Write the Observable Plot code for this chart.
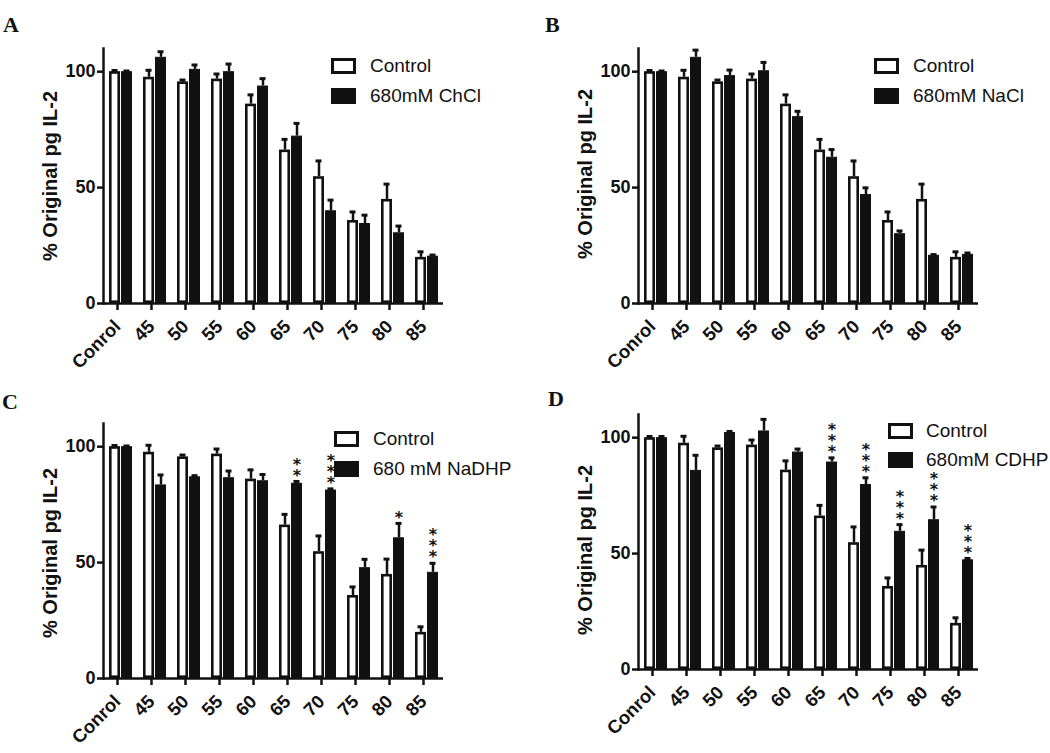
<!DOCTYPE html>
<html><head><meta charset="utf-8">
<script src="https://cdn.jsdelivr.net/npm/d3@7"></script>
<script src="https://cdn.jsdelivr.net/npm/@observablehq/plot@0.6"></script>
<style>
body{margin:0;background:#fff;}
#root{position:relative;width:1050px;height:753px;overflow:hidden;font-family:Arial,"Liberation Sans",sans-serif;color:#111;}
.panel{position:absolute;}
.letter{position:absolute;font-family:"Times New Roman","Liberation Serif",serif;font-weight:bold;font-size:22px;line-height:22px;color:#111;}
.legend{position:absolute;font-size:19px;}
.row{display:flex;align-items:center;height:18px;white-space:nowrap;}
.sw{box-sizing:border-box;width:25px;height:16px;border:3px solid #111;margin-right:14px;}
</style></head><body><div id="root"></div>
<script>
const categories = ["Conrol","45","50","55","60","65","70","75","80","85"];
const controlMean = [100, 97.6, 95.6, 96.8, 86, 66.2, 54.7, 35.8, 44.9, 19.9];
const controlErr  = [0.5, 3, 0.8, 2.2, 4, 4.6, 6.8, 3.7, 6.6, 2.4];
const chclMean  = [100, 106.2, 101, 100, 93.8, 72.2, 40, 34.5, 30.5, 20.4];
const chclErr   = [0.3, 2.4, 1.9, 3.3, 3.2, 5.5, 4.6, 3.6, 2.9, 0.5];
const naclMean  = [100, 106.2, 98.3, 100.4, 80.6, 63.1, 47, 30.1, 20.8, 21.2];
const naclErr   = [0.3, 3.1, 2.4, 3.6, 2.3, 3.3, 2.9, 1.2, 0.3, 0.6];
const nadhpMean = [100, 83.5, 87, 86.6, 85.3, 84.2, 81.3, 47.8, 60.7, 45.8];
const nadhpErr  = [0.3, 4.3, 0.5, 2.9, 2.7, 0.8, 0.5, 3.6, 6.2, 3.9];
const nadhpStars = ["","","","","","**","***","","*","***"];
const cdhpMean  = [100, 85.9, 102.2, 102.9, 93.8, 89.5, 79.8, 59.6, 64.6, 47.3];
const cdhpErr   = [0.5, 6.5, 0.5, 5, 1.3, 1.8, 2.9, 2.9, 5.5, 0.6];
const cdhpStars = ["","","","","","***","***","***","***","***"];
const yTicks = [0, 50, 100];
const yLabel = "% Original pg IL-2";
const seriesControl = "Control";
const panelLetters = ["A","B","C","D"];
const treatmentLabels = ["680mM ChCl","680mM NaCl","680 mM NaDHP","680mM CDHP"];

const panels = [
  {letter: panelLetters[0], treatment: treatmentLabels[0], mean: chclMean, err: chclErr, stars: null,
   left: 0, top: 0, w: 525, h: 376, ml: 100, mr: 80, mt: 48, mb: 73, labelDy: 0,
   letterPos: [3, 14], legendPos: [331, 57], legendGap: 12},
  {letter: panelLetters[1], treatment: treatmentLabels[1], mean: naclMean, err: naclErr, stars: null,
   left: 525, top: 0, w: 525, h: 376, ml: 110, mr: 70, mt: 48, mb: 73, labelDy: -2,
   letterPos: [545, 14], legendPos: [874, 57], legendGap: 12},
  {letter: panelLetters[2], treatment: treatmentLabels[2], mean: nadhpMean, err: nadhpErr, stars: nadhpStars,
   left: 0, top: 376, w: 525, h: 377, ml: 100, mr: 80, mt: 47, mb: 75, labelDy: 2,
   letterPos: [2, 391], legendPos: [334, 430], legendGap: 12},
  {letter: panelLetters[3], treatment: treatmentLabels[3], mean: cdhpMean, err: cdhpErr, stars: cdhpStars,
   left: 525, top: 376, w: 525, h: 377, ml: 111, mr: 70, mt: 38, mb: 84, labelDy: 8,
   letterPos: [548, 388], legendPos: [888, 422], legendGap: 11}
];

const root = document.getElementById("root");
const ink = "#111";

function makePlot(cfg) {
  const rows = categories.flatMap((c, i) => [
    {cat: c, series: seriesControl, mean: controlMean[i], top: controlMean[i] + controlErr[i], stars: ""},
    {cat: c, series: cfg.treatment, mean: cfg.mean[i], top: cfg.mean[i] + cfg.err[i], stars: cfg.stars ? cfg.stars[i] : ""}
  ]);
  const ctrl = rows.filter(d => d.series === seriesControl);
  const trt = rows.filter(d => d.series !== seriesControl);
  // one text entry per asterisk, stacked upward
  const starRows = trt.flatMap(d => d.stars.split("").map((s, k) => ({...d, star: s, k})));
  return Plot.plot({
    width: cfg.w, height: cfg.h,
    marginLeft: cfg.ml, marginRight: cfg.mr, marginTop: cfg.mt, marginBottom: cfg.mb,
    style: {fontFamily: "Arial, 'Liberation Sans', sans-serif", fontWeight: "bold", color: ink, background: "transparent", overflow: "visible"},
    fx: {domain: categories, padding: 0, label: null},
    x: {domain: [seriesControl, cfg.treatment], paddingInner: 0.115, paddingOuter: 0.385, axis: null},
    y: {domain: [0, 110], label: null},
    marks: [
      Plot.ruleX(rows, {fx: "cat", x: "series", y1: "mean", y2: "top", stroke: ink, strokeWidth: 2.5}),
      Plot.tickY(rows, {fx: "cat", x: "series", y: "top", stroke: ink, strokeWidth: 3, insetLeft: 2.5, insetRight: 2.5}),
      Plot.barY(ctrl, {fx: "cat", x: "series", y: "mean", fill: "white", stroke: ink, strokeWidth: 2.6, inset: 1.3}),
      Plot.barY(trt, {fx: "cat", x: "series", y: "mean", fill: ink, stroke: ink, strokeWidth: 1, inset: 0.5}),
      ...[0, 1, 2].map(k => Plot.text(starRows.filter(d => d.k === k), {fx: "cat", x: "series", y: "top", text: "star",
        dy: -6 - 11 * k, fontSize: 16, fontFamily: "'DejaVu Sans', sans-serif", fontWeight: "bold", fill: ink})),
      Plot.ruleY([0], {stroke: ink, strokeWidth: 2.5}),
      Plot.frame({anchor: "left", facetAnchor: "left", stroke: ink, strokeWidth: 2.5}),
      Plot.axisFx({anchor: "bottom", tickSize: 7, tickPadding: 13, tickRotate: -45, dx: -3, fontSize: 18.5, fontWeight: "bold", strokeWidth: 2.5, label: null}),
      Plot.axisY({ticks: yTicks, tickSize: 6, tickPadding: 2, fontSize: 18, fontWeight: "bold", strokeWidth: 2.5, label: null}),
      Plot.text([yLabel], {y: () => 55, frameAnchor: "left", facetAnchor: "left", textAnchor: "middle", rotate: -90, dx: -53, dy: cfg.labelDy, fontSize: 20, fontWeight: "bold", fill: ink})
    ]
  });
}

for (const cfg of panels) {
  const div = document.createElement("div");
  div.className = "panel";
  div.style.left = cfg.left + "px";
  div.style.top = cfg.top + "px";
  div.appendChild(makePlot(cfg));
  root.appendChild(div);

  const L = document.createElement("div");
  L.className = "letter";
  L.style.left = cfg.letterPos[0] + "px";
  L.style.top = cfg.letterPos[1] + "px";
  L.textContent = cfg.letter;
  root.appendChild(L);

  const leg = document.createElement("div");
  leg.className = "legend";
  leg.style.left = cfg.legendPos[0] + "px";
  leg.style.top = cfg.legendPos[1] + "px";
  [[seriesControl, "white"], [cfg.treatment, ink]].forEach(([label, fill], k) => {
    const row = document.createElement("div");
    row.className = "row";
    if (k === 0) row.style.marginBottom = cfg.legendGap + "px";
    const sw = document.createElement("div");
    sw.className = "sw";
    sw.style.background = fill;
    sw.style.marginRight = cfg.legendGap + 2 + "px";
    const tx = document.createElement("span");
    tx.textContent = label;
    row.appendChild(sw); row.appendChild(tx);
    leg.appendChild(row);
  });
  root.appendChild(leg);
}
</script></body></html>
